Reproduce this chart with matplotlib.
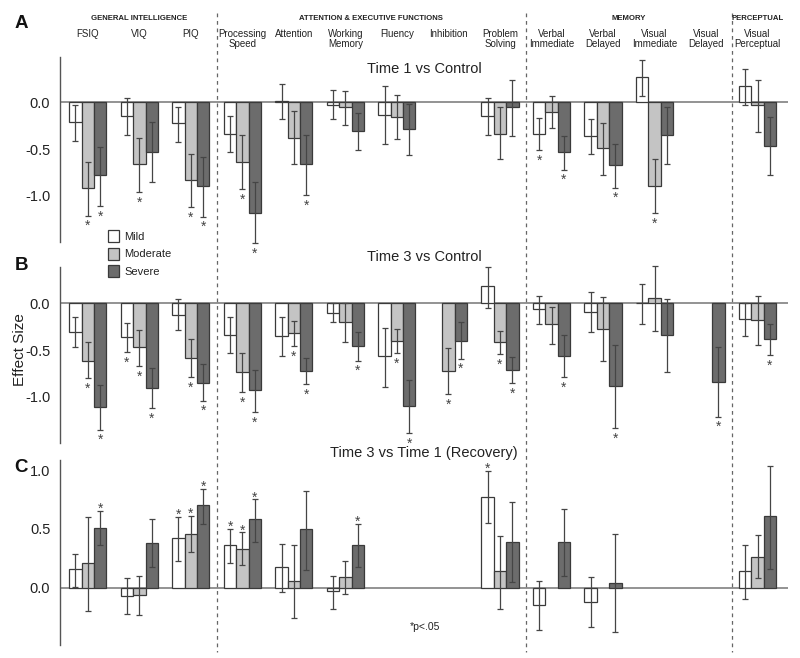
import numpy as np
import matplotlib
matplotlib.use("Agg")
import matplotlib.pyplot as plt
from matplotlib.transforms import blended_transform_factory
from matplotlib.lines import Line2D

plt.rcParams['font.family'] = ['Liberation Sans', 'DejaVu Sans']

nan = np.nan

categories = ["FSIQ", "VIQ", "PIQ", "Processing\nSpeed", "Attention", "Working\nMemory",
              "Fluency", "Inhibition", "Problem\nSolving", "Verbal\nImmediate", "Verbal\nDelayed",
              "Visual\nImmediate", "Visual\nDelayed", "Visual\nPerceptual"]
domains = ["GENERAL INTELLIGENCE", "ATTENTION & EXECUTIVE FUNCTIONS", "MEMORY", "PERCEPTUAL"]
domain_first = [0, 3, 9, 13]
domain_last = [2, 8, 12, 13]
groups = ["Mild", "Moderate", "Severe"]
panel_titles = ["Time 1 vs Control", "Time 3 vs Control", "Time 3 vs Time 1 (Recovery)"]
panel_letters = ["A", "B", "C"]

# ---- Panel A: Time 1 vs Control ----
a_mild    = [-0.21, -0.15, -0.22, -0.34, 0.01, -0.03, -0.14, nan, -0.15, -0.34, -0.36, 0.27, nan, 0.17]
a_mild_lo = [-0.41, -0.35, -0.42, -0.53, -0.18, -0.18, -0.45, nan, -0.35, -0.51, -0.55, 0.07, nan, -0.03]
a_mild_hi = [-0.03, 0.04, -0.05, -0.15, 0.19, 0.13, 0.17, nan, 0.04, -0.17, -0.18, 0.45, nan, 0.35]
a_mod     = [-0.92, -0.66, -0.83, -0.64, -0.38, -0.05, -0.16, nan, -0.34, -0.11, -0.49, -0.89, nan, -0.03]
a_mod_lo  = [-1.21, -0.96, -1.12, -0.93, -0.66, -0.24, -0.39, nan, -0.61, -0.28, -0.78, -1.18, nan, -0.32]
a_mod_hi  = [-0.64, -0.38, -0.55, -0.35, -0.10, 0.12, 0.08, nan, -0.05, 0.07, -0.22, -0.61, nan, 0.23]
a_sev     = [-0.78, -0.53, -0.89, -1.18, -0.66, -0.31, -0.29, nan, -0.05, -0.53, -0.67, -0.35, nan, -0.47]
a_sev_lo  = [-1.11, -0.85, -1.22, -1.50, -0.99, -0.51, -0.56, nan, -0.36, -0.72, -0.91, -0.66, nan, -0.78]
a_sev_hi  = [-0.48, -0.21, -0.58, -0.85, -0.35, -0.12, -0.02, nan, 0.24, -0.36, -0.45, -0.05, nan, -0.16]
a_mild_sig = [0, 0, 0, 0, 0, 0, 0, 0, 0, 1, 0, 0, 0, 0]
a_mod_sig  = [1, 1, 1, 1, 0, 0, 0, 0, 0, 0, 0, 1, 0, 0]
a_sev_sig  = [1, 0, 1, 1, 1, 0, 0, 0, 0, 1, 1, 0, 0, 0]

# ---- Panel B: Time 3 vs Control ----
b_mild    = [-0.30, -0.36, -0.12, -0.34, -0.35, -0.10, -0.56, nan, 0.19, -0.06, -0.09, 0.00, nan, -0.17]
b_mild_lo = [-0.47, -0.52, -0.28, -0.53, -0.56, -0.20, -0.89, nan, -0.05, -0.22, -0.31, -0.22, nan, -0.35]
b_mild_hi = [-0.15, -0.21, 0.05, -0.15, -0.15, 0.00, -0.26, nan, 0.39, 0.08, 0.12, 0.21, nan, 0.01]
b_mod     = [-0.61, -0.47, -0.58, -0.73, -0.32, -0.20, -0.40, -0.72, -0.41, -0.22, -0.27, 0.06, nan, -0.18]
b_mod_lo  = [-0.80, -0.67, -0.79, -0.95, -0.46, -0.41, -0.53, -0.97, -0.54, -0.43, -0.61, -0.29, nan, -0.44]
b_mod_hi  = [-0.41, -0.28, -0.38, -0.53, -0.19, 0.01, -0.27, -0.48, -0.29, -0.04, 0.07, 0.40, nan, 0.08]
b_sev     = [-1.11, -0.90, -0.85, -0.93, -0.72, -0.46, -1.10, -0.40, -0.71, -0.56, -0.88, -0.34, -0.84, -0.38]
b_sev_lo  = [-1.35, -1.12, -1.04, -1.16, -0.86, -0.61, -1.39, -0.59, -0.85, -0.79, -1.33, -0.73, -1.21, -0.55]
b_sev_hi  = [-0.87, -0.69, -0.65, -0.71, -0.58, -0.31, -0.82, -0.20, -0.57, -0.34, -0.44, 0.05, -0.47, -0.22]
b_mild_sig = [0, 1, 0, 0, 0, 0, 0, 0, 0, 0, 0, 0, 0, 0]
b_mod_sig  = [1, 1, 1, 1, 1, 0, 1, 1, 1, 0, 0, 0, 0, 0]
b_sev_sig  = [1, 1, 1, 1, 1, 1, 1, 1, 1, 1, 1, 0, 1, 1]

# ---- Panel C: Time 3 vs Time 1 (Recovery) ----
c_mild    = [0.16, -0.07, 0.42, 0.36, 0.18, -0.03, nan, nan, 0.77, -0.15, -0.12, nan, nan, 0.14]
c_mild_lo = [0.01, -0.22, 0.23, 0.21, -0.04, -0.18, nan, nan, 0.55, -0.36, -0.33, nan, nan, -0.10]
c_mild_hi = [0.29, 0.08, 0.60, 0.50, 0.37, 0.10, nan, nan, 0.99, 0.06, 0.09, nan, nan, 0.36]
c_mod     = [0.21, -0.06, 0.46, 0.33, 0.06, 0.09, nan, nan, 0.14, nan, nan, nan, nan, 0.26]
c_mod_lo  = [-0.20, -0.23, 0.30, 0.19, -0.26, -0.05, nan, nan, -0.18, nan, nan, nan, nan, 0.08]
c_mod_hi  = [0.60, 0.10, 0.61, 0.47, 0.36, 0.23, nan, nan, 0.44, nan, nan, nan, nan, 0.45]
c_sev     = [0.51, 0.38, 0.70, 0.58, 0.50, 0.36, nan, nan, 0.39, 0.39, 0.04, nan, nan, 0.61]
c_sev_lo  = [0.36, 0.18, 0.54, 0.39, 0.15, 0.18, nan, nan, 0.05, 0.10, -0.38, nan, nan, 0.16]
c_sev_hi  = [0.65, 0.58, 0.84, 0.75, 0.82, 0.54, nan, nan, 0.73, 0.67, 0.46, nan, nan, 1.03]
c_mild_sig = [0, 0, 1, 1, 0, 0, 0, 0, 1, 0, 0, 0, 0, 0]
c_mod_sig  = [0, 0, 1, 1, 0, 0, 0, 0, 0, 0, 0, 0, 0, 0]
c_sev_sig  = [1, 0, 1, 1, 0, 1, 0, 0, 0, 0, 0, 0, 0, 0]

panels = [
    [(a_mild, a_mild_lo, a_mild_hi, a_mild_sig), (a_mod, a_mod_lo, a_mod_hi, a_mod_sig), (a_sev, a_sev_lo, a_sev_hi, a_sev_sig)],
    [(b_mild, b_mild_lo, b_mild_hi, b_mild_sig), (b_mod, b_mod_lo, b_mod_hi, b_mod_sig), (b_sev, b_sev_lo, b_sev_hi, b_sev_sig)],
    [(c_mild, c_mild_lo, c_mild_hi, c_mild_sig), (c_mod, c_mod_lo, c_mod_hi, c_mod_sig), (c_sev, c_sev_lo, c_sev_hi, c_sev_sig)],
]

# ---- styling / layout ----
W, H = 800, 658
fill_colors = ["#ffffff", "#c4c4c4", "#6c6c6c"]
edge_color = "#3a3a3a"
err_color = "#454545"
txt_color = "#222222"
bar_w = 0.24
offsets = [-bar_w, 0.0, bar_w]
xlim = (-0.54, 13.59)
# (top px, bottom px) of each axes, y-limits
ax_px = [(57, 242), (267, 443), (460, 645)]
ylims = [(-1.49, 0.48), (-1.492, 0.39), (-0.487, 1.085)]
yticks = [[-1.0, -0.5, 0.0], [-1.0, -0.5, 0.0], [0.0, 0.5, 1.0]]
title_y = [0.935, 1.057, 1.038]
letter_y = [23, 265, 468]
below_star = [True, True, False]

fig = plt.figure(figsize=(W / 100, H / 100), dpi=100)
left_px, right_px = 60, 788
axes = []
for p in range(3):
    top, bot = ax_px[p]
    ax = fig.add_axes([left_px / W, 1 - bot / H, (right_px - left_px) / W, (bot - top) / H])
    axes.append(ax)
    ax.set_xlim(*xlim)
    ax.set_ylim(*ylims[p])
    for s in ["top", "right", "bottom"]:
        ax.spines[s].set_visible(False)
    ax.spines["left"].set_color("#555555")
    ax.spines["left"].set_linewidth(1.0)
    ax.set_xticks([])
    ax.set_yticks(yticks[p])
    ax.set_yticklabels([f"{v:.1f}" for v in yticks[p]])
    ax.tick_params(axis="y", length=0, pad=7, labelsize=10.5, labelcolor=txt_color)
    ax.axhline(0, color="#8a8a8a", lw=1.3, zorder=1)
    ax.patch.set_visible(False)

    x = np.arange(len(categories))
    for g in range(3):
        vals, lo, hi, sig = [np.array(a, dtype=float) for a in panels[p][g]]
        m = np.isfinite(vals)
        xs = x[m] + offsets[g]
        ax.bar(xs, vals[m], width=bar_w, color=fill_colors[g], edgecolor=edge_color,
               linewidth=0.9, zorder=2, label=groups[g])
        yerr = np.vstack([vals[m] - lo[m], hi[m] - vals[m]])
        eb = ax.errorbar(xs, vals[m], yerr=yerr, fmt="none", ecolor=err_color, elinewidth=0.9,
                         capsize=2.3, capthick=0.9, zorder=3)
        for art in eb.get_children():
            art.set_clip_on(False)
        for i in np.where(m & (sig == 1))[0]:
            xi = x[i] + offsets[g]
            if below_star[p]:
                ax.annotate("*", xy=(xi, lo[i]), xytext=(0, -2.5), textcoords="offset points",
                            ha="center", va="top", fontsize=10, color="#444444",
                            annotation_clip=False)
            else:
                ax.annotate("*", xy=(xi, hi[i]), xytext=(0, -1.5), textcoords="offset points",
                            ha="center", va="baseline", fontsize=10, color="#444444",
                            annotation_clip=False)

    ax.text(0.5, title_y[p], panel_titles[p], transform=ax.transAxes, ha="center", va="center",
            fontsize=10.5, color=txt_color)
    fig.text(21 / W, 1 - letter_y[p] / H, panel_letters[p], ha="center", va="center",
             fontsize=13.5, fontweight="bold", color="#111111")

axA = axes[0]
trans = blended_transform_factory(axA.transData, fig.transFigure)
xcat = np.arange(len(categories))

# category labels
for i, lab in enumerate(categories):
    fig.text(xcat[i], 1 - 29 / H, lab, transform=trans, ha="center", va="top",
             fontsize=7, color=txt_color, linespacing=1.05)

# domain headers
for d, name in enumerate(domains):
    xc = (domain_first[d] + domain_last[d]) / 2
    fig.text(xc, 1 - 18 / H, name, transform=trans, ha="center", va="center",
             fontsize=5.6, fontweight="bold", color=txt_color)

# dashed separators
for xb in [2.5, 8.5, 12.5]:
    fig.add_artist(Line2D([xb, xb], [1 - 13 / H, 1 - 652 / H], transform=trans,
                          color="#666666", lw=0.9, linestyle=(0, (3, 3))))

# legend
handles = [c for c in axA.containers if hasattr(c, "patches")][:3]
leg = fig.legend(handles, groups, loc="upper left", bbox_to_anchor=(108 / W, 1 - 230 / H),
                 frameon=False, fontsize=8, handlelength=0.95, handleheight=1.3,
                 handletextpad=0.5, labelspacing=0.5, borderpad=0, borderaxespad=0)
for t in leg.get_texts():
    t.set_color(txt_color)

fig.text(20 / W, 1 - 350 / H, "Effect Size", rotation=90, ha="center", va="center",
         fontsize=11, color=txt_color)
fig.text(425 / W, 1 - 627 / H, "*p<.05", ha="center", va="center", fontsize=7.5, color=txt_color)

fig.savefig("out.png", dpi=100)
